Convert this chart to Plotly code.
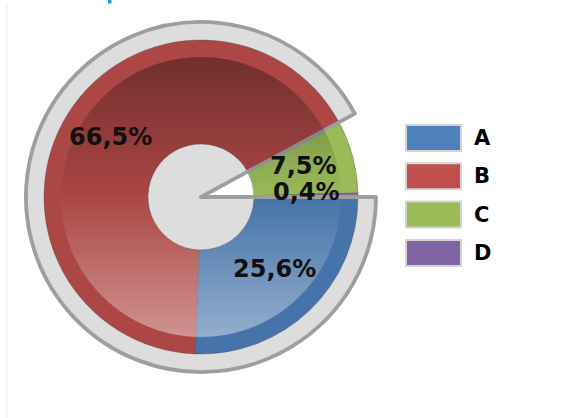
import numpy as np
import plotly.graph_objects as go

# data
categories = ["A", "B", "C", "D"]
shares = [25.6, 66.5, 7.5, 0.4]
slice_colors = ["#4F81BD", "#C0504D", "#9BBB59", "#8064A2"]
# slices covered by the grey frame; the notch leaves the rest open
framed = ["A", "B"]

W, H = 581, 418
CX, CY = 201, 197          # pie centre, px
R = 157                    # pie radius
R_FRAME = 175              # grey frame radius
R_HOLE = 53
R_SHADE = 140              # inner gradient band


def paper(x, y):
    return x / W, 1 - y / H


def domain(r):
    x0, y1 = paper(CX - r, CY - r)
    x1, y0 = paper(CX + r, CY + r)
    return {"x": [x0, x1], "y": [y0, y1]}


framed_sum = sum(v for c, v in zip(categories, shares) if c in framed)
open_sum = sum(shares) - framed_sum

fig = go.Figure()

# grey frame fill (below the pie)
fig.add_trace(go.Pie(
    values=[framed_sum, open_sum], sort=False, direction="clockwise", rotation=90,
    domain=domain(R_FRAME), marker={"colors": ["#F7F7F7", "rgba(0,0,0,0)"], "line": {"width": 0}},
    textinfo="none", hoverinfo="skip", showlegend=False,
))

# the data pie
fig.add_trace(go.Pie(
    labels=categories, values=shares, sort=False, direction="clockwise", rotation=90,
    hole=R_HOLE / R, domain=domain(R),
    marker={"colors": slice_colors, "line": {"width": 0.8, "color": "rgba(70,70,70,0.45)"}},
    textinfo="none", showlegend=False,
))

# translucent frame outline on top
fig.add_trace(go.Pie(
    values=[framed_sum, open_sum], sort=False, direction="clockwise", rotation=90,
    domain=domain(R_FRAME),
    marker={"colors": ["rgba(0,0,0,0.1)", "rgba(0,0,0,0)"],
            "line": {"width": 3.8, "color": ["#9E9E9E", "rgba(0,0,0,0)"]}},
    textinfo="none", hoverinfo="skip", showlegend=False,
))


def circle_strip(r, ya, yb):
    a, b = max(ya - CY, -r), min(yb - CY, r)
    if a >= b:
        return ""
    ys = np.linspace(a, b, 8)
    pts = [(CX + np.sqrt(max(r * r - y * y, 0)), CY + y) for y in ys]
    pts += [(CX - np.sqrt(max(r * r - y * y, 0)), CY + y) for y in ys[::-1]]
    pp = [paper(x, y) for x, y in pts]
    return "M " + " L ".join(f"{x:.5f},{y:.5f}" for x, y in pp) + " Z"


shapes = []
step = 4
for ya in range(CY - R_SHADE, CY + R_SHADE, step):
    yb = ya + step
    s = (CY - (ya + yb) / 2) / R_SHADE
    if s > 0:
        col = f"rgba(0,0,0,{0.34 * s:.3f})"
    else:
        col = f"rgba(255,255,255,{0.42 * -s:.3f})"
    path = circle_strip(R_SHADE, ya, yb) + " " + circle_strip(R_HOLE, ya, yb)
    shapes.append(dict(type="path", xref="paper", yref="paper", path=path.strip(),
                       fillcolor=col, line={"width": 0}, layer="above", fillrule="evenodd"))

annotations = []
# slice labels at the middle of each slice
cum = 0
total = sum(shares)
for v in shares:
    mid = np.radians(90 + 360 * (cum + v / 2) / total)
    cum += v
    x, y = CX + 106 * np.sin(mid), CY - 106 * np.cos(mid) - 4
    px, py = paper(x, y)
    annotations.append(dict(
        x=px, y=py, xref="paper", yref="paper", text=f"{v:.1f}%".replace(".", ","),
        showarrow=False, xanchor="center", yanchor="middle",
        font={"family": "DejaVu Sans", "size": 24, "weight": "bold", "color": "#111111"},
    ))

# legend drawn as boxes
for i, (c, col) in enumerate(zip(categories, slice_colors)):
    top = 125 + i * 38.3
    x0, y1 = paper(406, top)
    x1, y0 = paper(461, top + 26)
    shapes.append(dict(type="rect", xref="paper", yref="paper", x0=x0, x1=x1, y0=y0, y1=y1,
                       fillcolor=col, line={"width": 2, "color": "#D4D4D4"}))
    tx, ty = paper(472, top + 13)
    annotations.append(dict(
        x=tx, y=ty, xref="paper", yref="paper", text=c, showarrow=False,
        xanchor="left", yanchor="middle",
        font={"family": "DejaVu Sans", "size": 21, "weight": "bold", "color": "#000000"},
    ))

# faint page border and the clipped title stroke
lx, ly0 = paper(7, 5)
_, ly1 = paper(7, H)
shapes.append(dict(type="line", xref="paper", yref="paper", x0=lx, x1=lx, y0=ly0, y1=ly1,
                   line={"width": 1.5, "color": "#EEF6E6"}))
tx0, ty1 = paper(108, 0)
tx1, ty0 = paper(111.5, 3.5)
shapes.append(dict(type="rect", xref="paper", yref="paper", x0=tx0, x1=tx1, y0=ty0, y1=ty1,
                   fillcolor="#1AA3CC", line={"width": 0}))

fig.update_layout(
    width=W, height=H, margin={"l": 0, "r": 0, "t": 0, "b": 0},
    paper_bgcolor="white", plot_bgcolor="white",
    shapes=shapes, annotations=annotations, showlegend=False,
)

# drop the default page margin so the figure sits at the window's corner
fig.write_html("out.html", config={"displayModeBar": False},
               post_script="document.body.style.margin = '0';")
